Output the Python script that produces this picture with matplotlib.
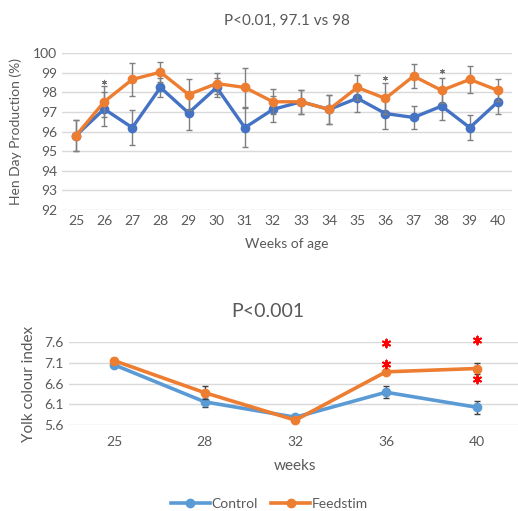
import matplotlib
matplotlib.use("Agg")
import matplotlib.pyplot as plt
from matplotlib.lines import Line2D

plt.rcParams['font.family'] = ['Lato', 'DejaVu Sans']

GREY_TXT = "#595959"
GRID = "#D9D9D9"
ORANGE = "#ED7D31"

# Hen day production, weekly
weeks = [25, 26, 27, 28, 29, 30, 31, 32, 33, 34, 35, 36, 37, 38, 39, 40]
hdp_control = [95.8, 97.15, 96.2, 98.25, 96.95, 98.25, 96.2, 97.13, 97.52, 97.13, 97.7, 96.92, 96.72, 97.3, 96.2, 97.52]
hdp_control_err = [0.8, 0.85, 0.88, 0.5, 0.85, 0.5, 1.0, 0.66, 0.62, 0.73, 0.68, 0.77, 0.61, 0.7, 0.63, 0.6]
hdp_feed = [95.8, 97.52, 98.66, 99.03, 97.89, 98.45, 98.25, 97.52, 97.52, 97.13, 98.25, 97.69, 98.83, 98.1, 98.66, 98.1]
hdp_feed_err = [0.8, 0.8, 0.85, 0.5, 0.77, 0.55, 1.0, 0.63, 0.62, 0.73, 0.65, 0.77, 0.63, 0.65, 0.68, 0.56]
hdp_star_weeks = [26, 36, 38]
hdp_star_y = [98.55, 98.75, 99.1]

# Yolk colour
yolk_weeks = ["25", "28", "32", "36", "40"]
yolk_control = [7.05, 6.16, 5.79, 6.39, 6.03]
yolk_control_err = [0.04, 0.13, 0.06, 0.14, 0.16]
yolk_feed = [7.15, 6.38, 5.72, 6.88, 6.96]
yolk_feed_err = [0.06, 0.15, 0.05, 0.04, 0.14]
yolk_star_idx = [3, 3, 4, 4]
yolk_star_y = [7.58, 7.08, 7.64, 6.71]


def style_axes(ax):
    for s in ax.spines.values():
        s.set_visible(False)
    ax.grid(axis='y', color=GRID, linewidth=1)
    ax.set_axisbelow(True)
    ax.tick_params(length=0, colors=GREY_TXT, labelsize=10)


fig = plt.figure(figsize=(5.18, 5.11), dpi=100)

# Top chart
ax1 = fig.add_axes([0.1197, 0.589, 0.8687, 0.307])
style_axes(ax1)
ax1.errorbar(weeks, hdp_control, yerr=hdp_control_err, color="#4472C4", ecolor="#7F7F7F",
             elinewidth=1, capsize=2.5, capthick=1, lw=2.4, marker='o', ms=6, zorder=3)
ax1.errorbar(weeks, hdp_feed, yerr=hdp_feed_err, color=ORANGE, ecolor="#7F7F7F",
             elinewidth=1, capsize=2.5, capthick=1, lw=2.4, marker='o', ms=6, zorder=4)
ax1.scatter(hdp_star_weeks, hdp_star_y, marker=(6, 2, 0), s=10, color="#707070",
            linewidths=0.7, zorder=6)
ax1.set_xlim(24.5, 40.5)
ax1.set_ylim(92, 100)
ax1.set_xticks(weeks)
ax1.set_yticks(range(92, 101))
ax1.set_title("P<0.01, 97.1 vs 98", color=GREY_TXT, fontsize=11, pad=20)
ax1.set_xlabel("Weeks of age", color=GREY_TXT, fontsize=10, labelpad=8)
ax1.set_ylabel("Hen Day Production (%)", color=GREY_TXT, fontsize=10, labelpad=8)

# Bottom chart
BLUE2 = "#5B9BD5"
ax2 = fig.add_axes([0.1326, 0.168, 0.875, 0.163])
style_axes(ax2)
xs = range(len(yolk_weeks))
ax2.errorbar(xs, yolk_control, yerr=yolk_control_err, color=BLUE2, ecolor="#404040",
             elinewidth=1, capsize=2.5, capthick=1, lw=2.6, marker='o', ms=6, zorder=3)
ax2.errorbar(xs, yolk_feed, yerr=yolk_feed_err, color=ORANGE, ecolor="#404040",
             elinewidth=1, capsize=2.5, capthick=1, lw=2.6, marker='o', ms=6, zorder=4)
# red significance stars drawn as markers so they sit exactly on the value
ax2.scatter(yolk_star_idx, yolk_star_y, marker=(6, 2, 0), s=32, color="red",
            linewidths=1.4, zorder=6, clip_on=False)
ax2.set_xlim(-0.5, 4.5)
ax2.set_ylim(5.6, 7.6)
ax2.set_xticks(list(xs))
ax2.set_xticklabels(yolk_weeks)
ax2.set_yticks([5.6, 6.1, 6.6, 7.1, 7.6])
ax2.tick_params(axis='x', pad=8)
ax2.set_xlabel("weeks", color=GREY_TXT, fontsize=11, labelpad=8)
ax2.set_ylabel("Yolk colour index", color=GREY_TXT, fontsize=11, labelpad=6)
fig.text(0.517, 0.39, "P<0.001", ha='center', va='center', color=GREY_TXT, fontsize=14)

handles = [Line2D([], [], color=BLUE2, lw=2.6, marker='o', ms=6),
           Line2D([], [], color=ORANGE, lw=2.6, marker='o', ms=6)]
fig.legend(handles, ["Control", "Feedstim"], loc='center', bbox_to_anchor=(0.52, 0.014),
           ncol=2, frameon=False, fontsize=10, labelcolor=GREY_TXT,
           handlelength=2.8, handletextpad=0.1, columnspacing=1.0)

fig.savefig("out.png", dpi=100)
